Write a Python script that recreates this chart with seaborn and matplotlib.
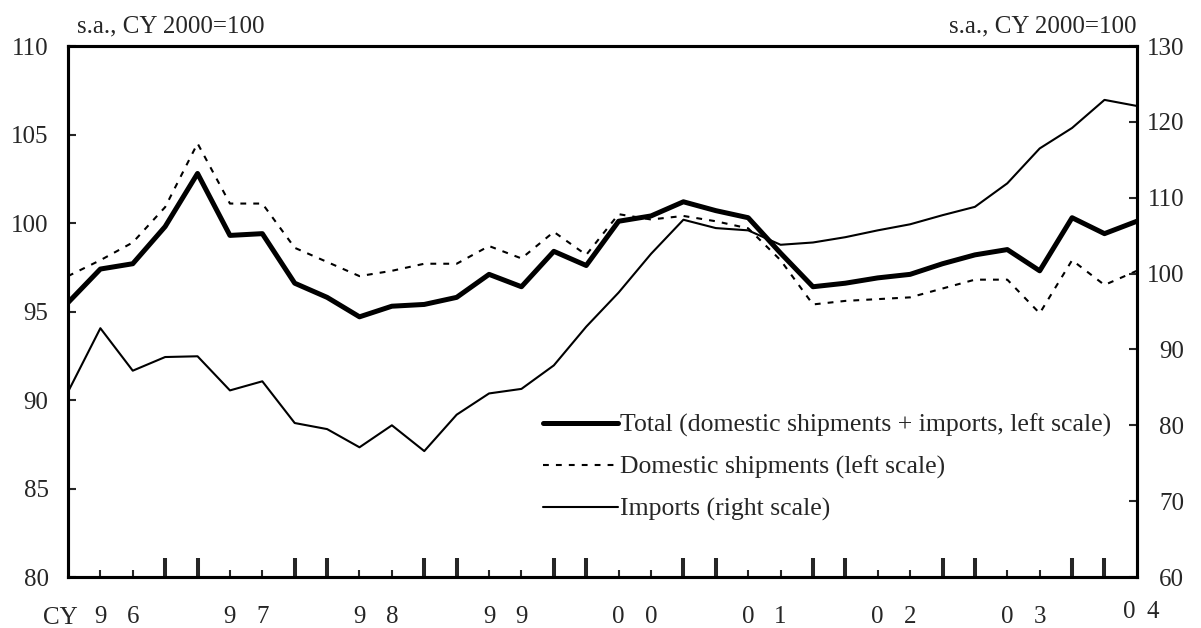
"""
Domestic shipments and imports index chart (quarterly, CY 2000 = 100).
"""

import matplotlib
matplotlib.use("Agg")
import matplotlib.pyplot as plt
import matplotlib.transforms as mtransforms
import seaborn as sns

# quarterly index, 1996 Q1 .. 2004 Q2
quarters = list(range(34))

total = [95.5, 97.4, 97.7, 99.8, 102.8, 99.3, 99.4, 96.6, 95.8, 94.7,
         95.3, 95.4, 95.8, 97.1, 96.4, 98.4, 97.6, 100.1, 100.4, 101.2,
         100.7, 100.3, 98.3, 96.4, 96.6, 96.9, 97.1, 97.7, 98.2, 98.5,
         97.3, 100.3, 99.4, 100.1]

domestic = [97.0, 97.9, 98.9, 100.9, 104.5, 101.1, 101.1, 98.6, 97.8, 97.0,
            97.3, 97.7, 97.7, 98.7, 98.0, 99.5, 98.2, 100.5, 100.2, 100.4,
            100.1, 99.7, 97.9, 95.4, 95.6, 95.7, 95.8, 96.3, 96.8, 96.8,
            94.9, 97.9, 96.5, 97.3]

imports = [84.4, 92.8, 87.2, 89.0, 89.1, 84.6, 85.8, 80.3, 79.5, 77.1,
           80.0, 76.6, 81.4, 84.2, 84.8, 87.9, 93.0, 97.5, 102.6, 107.1,
           106.0, 105.7, 103.8, 104.1, 104.8, 105.7, 106.5, 107.7, 108.8, 111.9,
           116.5, 119.2, 122.9, 122.1]

years = ["96", "97", "98", "99", "00", "01", "02", "03"]

left_ticks = [80, 85, 90, 95, 100, 105, 110]
right_ticks = [60, 70, 80, 90, 100, 110, 120, 130]

labels = ["Total (domestic shipments + imports, left scale)",
          "Domestic shipments (left scale)",
          "Imports (right scale)"]

sns.set_style("ticks")
plt.rcParams["font.family"] = ["Liberation Serif", "DejaVu Serif"]
plt.rcParams["font.size"] = 18

fig = plt.figure(figsize=(12.01, 6.28), dpi=100)
ax = fig.add_axes([0.0566, 0.0812, 0.890, 0.8455])
ax2 = ax.twinx()

sns.lineplot(x=quarters, y=total, ax=ax, color="black", linewidth=3.6,
             label=labels[0])
sns.lineplot(x=quarters, y=domestic, ax=ax, color="black", linewidth=1.5,
             linestyle=(0, (2.8, 3.4)), label=labels[1])
sns.lineplot(x=quarters, y=imports, ax=ax2, color="black", linewidth=1.5,
             label=labels[2])

ax.set_xlim(0, 33)
ax.set_ylim(80, 110)
ax2.set_ylim(60, 130)
ax.set_yticks(left_ticks)
ax2.set_yticks(right_ticks)

# tall ticks at Q4/Q1 of each year, short ticks with year digits at Q2/Q3
tall = [4 * k + d for k in range(8) for d in (3, 4)]
short = [4 * k + d for k in range(8) for d in (1, 2)]
digits = [y[d - 1] for y in years for d in (1, 2)]
ax.set_xticks(tall, [""] * len(tall))
ax.set_xticks(short, digits, minor=True)

ax.tick_params(axis="x", which="major", direction="in", length=14, width=2.9)
ax.tick_params(axis="x", which="minor", direction="in", length=5, width=1.5,
               pad=21, labelsize=18)
ax.tick_params(axis="y", direction="in", length=6, width=1.5, pad=14,
               labelsize=18)
ax2.tick_params(axis="y", direction="in", length=6, width=1.5, pad=34,
                labelsize=18)
for t in ax2.get_yticklabels():
    t.set_ha("right")

ax.set_xlabel("")
ax.set_ylabel("")
ax2.set_ylabel("")
for a in (ax, ax2):
    for s in a.spines.values():
        s.set_visible(True)
        s.set_linewidth(2.2)
        s.set_color("black")

trans = mtransforms.blended_transform_factory(ax.transData, ax.transAxes)
ax.text(-0.25, -0.0565, "CY", transform=trans, ha="center", va="top",
        fontsize=18)
ax.text(32.75, -0.045, "0", transform=trans, ha="center", va="top",
        fontsize=18)
ax.text(33.49, -0.045, "4", transform=trans, ha="center", va="top",
        fontsize=18, clip_on=False)

ax.text(0.008, 1.025, "s.a., CY 2000=100", transform=ax.transAxes,
        ha="left", va="baseline", fontsize=18)
ax.text(1.0, 1.025, "s.a., CY 2000=100", transform=ax.transAxes,
        ha="right", va="baseline", fontsize=18)

h1, l1 = ax.get_legend_handles_labels()
h2, l2 = ax2.get_legend_handles_labels()
if ax.get_legend() is not None:
    ax.get_legend().remove()
ax2.legend(h1 + h2, l1 + l2, loc="upper left",
           bbox_to_anchor=(0.444, 0.3075), frameon=False, fontsize=18.5,
           handlelength=2.92, handletextpad=0.08, labelspacing=0.73,
           borderpad=0, borderaxespad=0)

fig.savefig("out.png", dpi=100)
